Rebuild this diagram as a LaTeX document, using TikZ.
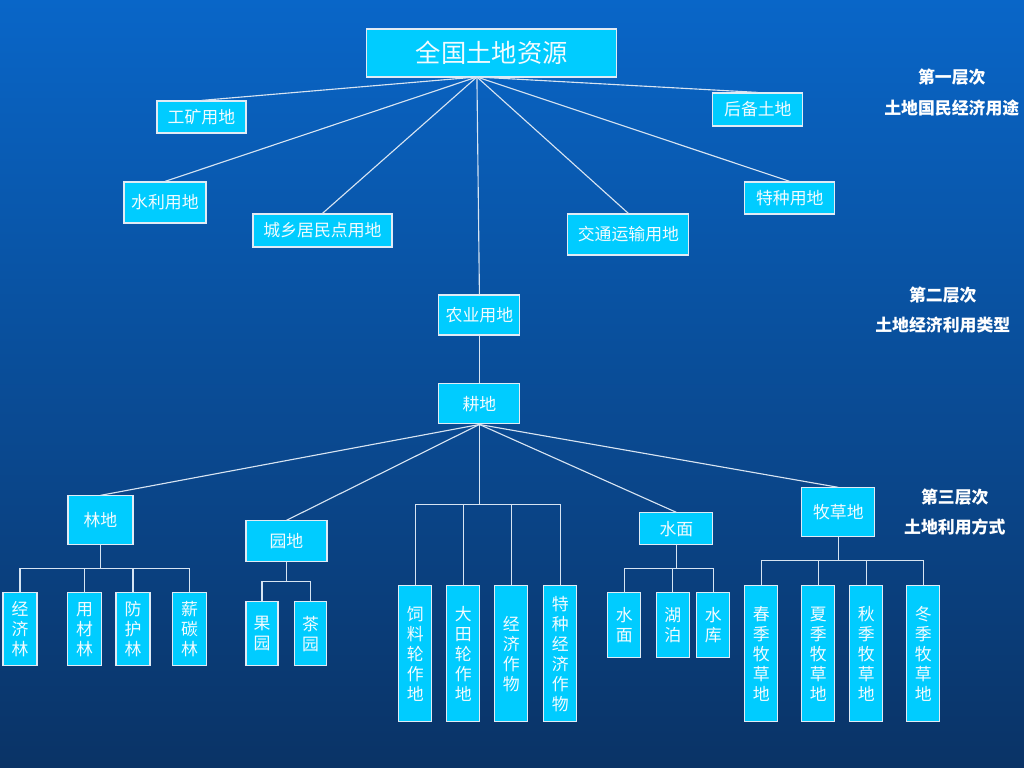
\documentclass[tikz,border=0pt]{standalone}
\usepackage{fontspec}
\usepackage{tikz}
\newfontfamily\cjk{Noto Sans CJK SC}
\definecolor{bgtop}{RGB}{9,102,200}
\definecolor{bgmid}{RGB}{5,86,168}
\definecolor{bgbot}{RGB}{10,51,102}
\definecolor{boxfill}{RGB}{0,204,255}
\definecolor{boxline}{RGB}{225,235,245}
\definecolor{linkcol}{RGB}{215,228,242}

\begin{document}
\begin{tikzpicture}[x=0.025cm, y=-0.025cm,
		box/.style={draw=boxline, line width=0.8pt, fill=boxfill, text=white!95!cyan, inner sep=0pt, font=\cjk\fontsize{12pt}{14.2pt}\selectfont, align=center},
		tallbox/.style={box, minimum width=0.825cm, minimum height=3.4cm},
		link/.style={draw=linkcol, line width=0.8pt},
		level/.style={text=white, font=\cjk\bfseries\fontsize{12pt}{14pt}\selectfont}]
				\shade[top color=bgtop, middle color=bgmid, bottom color=bgbot] (0, 0) rectangle (1024, 768);
				% first level
				\node[box, minimum width=6.25cm, minimum height=1.2cm, font=\cjk\fontsize{18pt}{20pt}\selectfont] (root)at(492, 53) {全国土地资源};
				\coordinate (hub)at(477, 77);
				\node[box, minimum width=2.225cm, minimum height=0.8cm] (gk)at(201.5, 117) {工矿用地};
				\node[box, minimum width=2.05cm, minimum height=1.025cm] (sl)at(165, 202.5) {水利用地};
				\node[box, minimum width=3.475cm, minimum height=0.825cm] (cx)at(322.5, 230.5) {城乡居民点用地};
				\node[box, minimum width=2.25cm, minimum height=0.825cm] (hb)at(758, 109.5) {后备土地};
				\node[box, minimum width=2.25cm, minimum height=0.8cm] (tz)at(790, 198) {特种用地};
				\node[box, minimum width=3.025cm, minimum height=1.025cm] (jt)at(628.5, 234.5) {交通运输用地};
				\node[box, minimum width=2.025cm, minimum height=1cm] (ny)at(479.5, 315) {农业用地};
				\node[box, minimum width=2.025cm, minimum height=1cm] (gd)at(479.5, 404) {耕地};
				% second level
				\node[box, minimum width=1.625cm, minimum height=1.225cm] (ld)at(100.5, 520.5) {林地};
				\node[box, minimum width=2.025cm, minimum height=1.025cm] (yd)at(286.5, 541.5) {园地};
				\node[box, minimum width=1.825cm, minimum height=0.8cm] (sm)at(676.5, 529) {水面};
				\node[box, minimum width=1.825cm, minimum height=1.225cm] (mc)at(838.5, 512.5) {牧草地};
				% third level
				\node[box, minimum width=0.85cm, minimum height=1.825cm] (jjl)at(20, 629.5) {经\\济\\林};
				\node[box, minimum width=0.85cm, minimum height=1.825cm] (ycl)at(84.5, 629.5) {用\\材\\林};
				\node[box, minimum width=0.85cm, minimum height=1.825cm] (fhl)at(133, 629.5) {防\\护\\林};
				\node[box, minimum width=0.85cm, minimum height=1.825cm] (xtl)at(189.5, 629.5) {薪\\碳\\林};
				\node[box, minimum width=0.8cm, minimum height=1.6cm] (gy)at(262, 634) {果\\园};
				\node[box, minimum width=0.8cm, minimum height=1.6cm] (cy)at(310.5, 634) {茶\\园};
				\node[tallbox] (slz)at(415.5, 654) {饲\\料\\轮\\作\\地};
				\node[tallbox] (dtz)at(463.5, 654) {大\\田\\轮\\作\\地};
				\node[tallbox] (jjw)at(511.5, 654) {经\\济\\作\\物};
				\node[tallbox] (tjw)at(560.5, 654) {特\\种\\经\\济\\作\\物};
				\node[box, minimum width=0.825cm, minimum height=1.625cm] (smm)at(624.5, 625.5) {水\\面};
				\node[box, minimum width=0.825cm, minimum height=1.625cm] (hp)at(673, 625.5) {湖\\泊};
				\node[box, minimum width=0.825cm, minimum height=1.625cm] (sk)at(713.5, 625.5) {水\\库};
				\node[tallbox] (cj)at(761.5, 654) {春\\季\\牧\\草\\地};
				\node[tallbox] (xj)at(818.5, 654) {夏\\季\\牧\\草\\地};
				\node[tallbox] (qj)at(866.5, 654) {秋\\季\\牧\\草\\地};
				\node[tallbox] (dj)at(923.5, 654) {冬\\季\\牧\\草\\地};
				% level labels
				\node[level] (l1a)at(952, 77) {第一层次};
				\node[level] (l1b)at(952, 108) {土地国民经济用途};
				\node[level] (l2a)at(943, 295) {第二层次};
				\node[level] (l2b)at(943, 325) {土地经济利用类型};
				\node[level] (l3a)at(955, 497) {第三层次};
				\node[level] (l3b)at(955, 527) {土地利用方式};
				% links
				\foreach \n in {gk, sl, cx, hb, tz, jt, ny}
					\draw[link] (hub) -- (\n.north);
				\draw[link] (ny) -- (gd);
				\foreach \n in {ld, yd, sm, mc}
					\draw[link] (gd.south) -- (\n.north);
				\coordinate (gdbus)at(479.5, 505);
				\draw[link] (gd.south) -- (gdbus);
				\foreach \n in {slz, dtz, jjw, tjw}
					\draw[link] (\n.north) |- (gdbus);
				\coordinate (ldbus)at(100.5, 569);
				\draw[link] (ld) -- (ldbus);
				\foreach \n in {jjl, ycl, fhl, xtl}
					\draw[link] (\n.north) |- (ldbus);
				\coordinate (ydbus)at(286.5, 582);
				\draw[link] (yd) -- (ydbus);
				\foreach \n in {gy, cy}
					\draw[link] (\n.north) |- (ydbus);
				\coordinate (smbus)at(676.5, 569);
				\draw[link] (sm) -- (smbus);
				\foreach \n in {smm, hp, sk}
					\draw[link] (\n.north) |- (smbus);
				\coordinate (mcbus)at(838.5, 561);
				\draw[link] (mc) -- (mcbus);
				\foreach \n in {cj, xj, qj, dj}
					\draw[link] (\n.north) |- (mcbus);
			\end{tikzpicture}
\end{document}
